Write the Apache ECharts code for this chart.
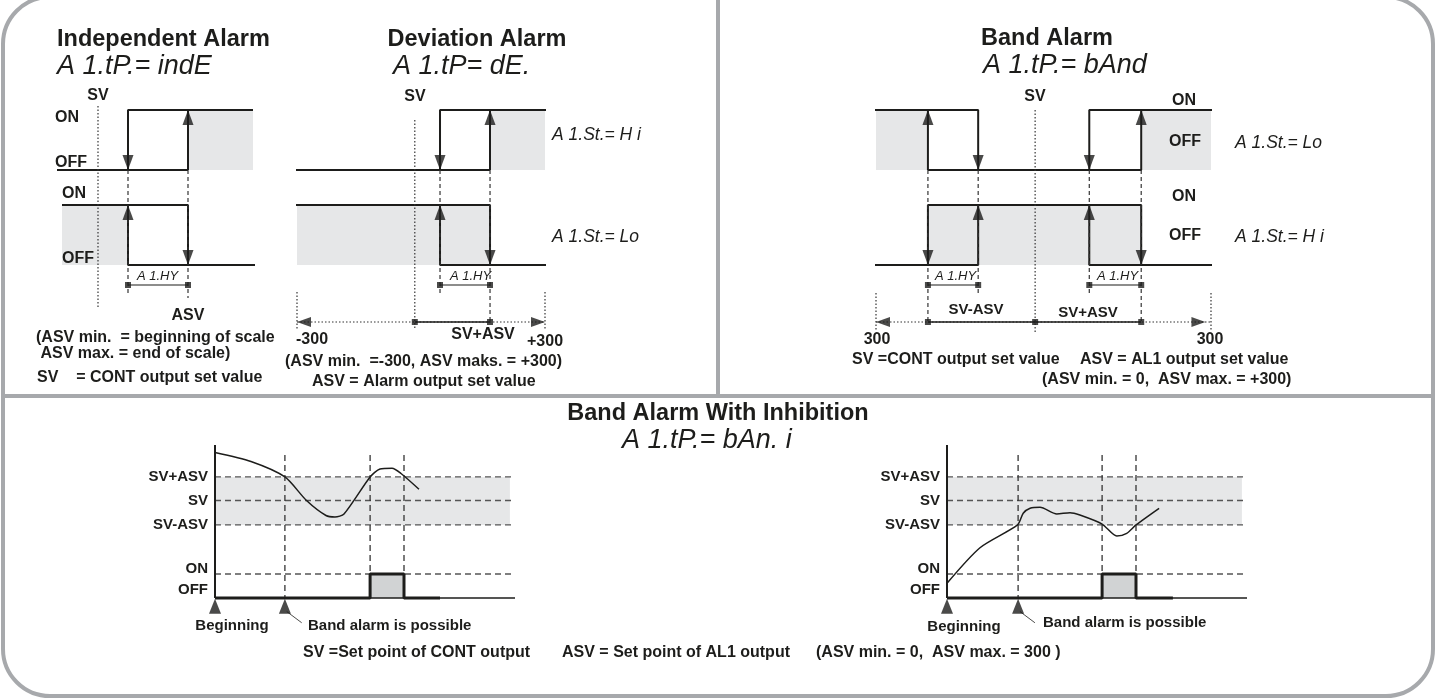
<!DOCTYPE html>
<html lang="en">
<head>
<meta charset="UTF-8">
<title>Alarm types</title>
<script src="https://cdn.jsdelivr.net/npm/echarts@6/dist/echarts.min.js"></script>
<style>
  body { margin: 0; background: #fff; }
  #chart { width: 1437px; height: 698px; }
</style>
</head>
<body>
<div id="chart"></div>
<script>
// ---- values ----
// switching-track levels of the top diagrams: ON1, OFF1, ON2, OFF2, hysteresis line, scale line
var trackLevels = [1, 7, 10.5, 16.5, 18.5, 22.2];

// independent alarm (scale units 0..200): SV, ASV-HY, ASV
var indeMarks = [41, 71, 131];
var indeEnds = [0, 5, 196, 198];          // row1 start, row2 start, row1 end, row2 end

// deviation alarm (-300..+300): SV, SV+ASV-HY, SV+ASV
var devMarks = [-15, 46, 167];
var devEnds = [-310, -319, 312, 324];
var devScale = [-300, 300];

// band alarm (-300..+300): SV-ASV, SV-ASV+HY, SV, SV+ASV-HY, SV+ASV
var bandMarks = [-207, -117, -15, 82, 175];
var bandEnds = [-332, -329, 330, 348, 323];
var bandScale = [-300, 300];

// band alarm with inhibition: process levels OFF, ON, SV-ASV, SV, SV+ASV
var inhibLevels = [0, 16, 48.7, 65, 80.7];
var inhibTickPos = [5.3, 19.3, 48.7, 65, 80.7];
var inhibTickLabels = ['OFF', 'ON', 'SV-ASV', 'SV', 'SV+ASV'];
var leftCurve = [[0, 97], [12, 91], [23.3, 80.7], [30.5, 65], [37, 55], [40, 54], [43, 56],
  [51.7, 80.7], [55, 86], [59, 86.5], [62, 83], [68, 72.5]];
var rightCurve = [[0, 9.8], [11, 33.5], [23.5, 48.7], [25.4, 56.5], [27.7, 59.8], [31, 60.5],
  [36.6, 56], [41, 56.9], [44.3, 55.3], [51.7, 49.3], [56.6, 41.3], [59.9, 43.1], [63, 48.7], [70.7, 59.8]];
var leftEvents = [23.3, 51.7, 63, 75];    // band alarm possible, alarm on, alarm off, end of output line
var rightEvents = [23.7, 51.7, 63, 75.3];

// ---- styling ----
var ink = '#1d1d1b';
var fillGrey = '#e6e7e8';
var pulseGrey = '#d1d3d4';
var frameGrey = '#a7a9ac';
var fam = '"Liberation Sans", Arial, sans-serif';
var labelFont = 'bold 16px ' + fam;
var smallFont = 'bold 15px ' + fam;
var titleFont = 'bold 23.5px ' + fam;
var segFont = 'italic 27px ' + fam;
var stFont = 'italic 17.5px ' + fam;
var hyFont = 'italic 13px ' + fam;

var series = [];

function path(g, pts, o) {
  o = o || {};
  series.push({
    type: 'line', xAxisIndex: g, yAxisIndex: g, data: pts, symbol: 'none',
    clip: false, silent: true, smooth: o.smooth || false, z: o.z || 3,
    lineStyle: { color: o.color || ink, width: o.w || 2, type: o.type || 'solid', cap: 'butt' }
  });
}
function dashed(g, pts) { path(g, pts, { w: 1.2, type: [4, 3], color: '#333' }); }
function dotted(g, pts) { path(g, pts, { w: 1.2, type: [1.5, 2], color: '#333' }); }

function heads(g, list, size) {
  size = size || [11, 15];
  var h = size[1] / 2;
  var rot = { up: 0, down: 180, left: 90, right: -90 };
  var off = { up: [0, h], down: [0, -h], left: [h, 0], right: [-h, 0] };
  series.push({
    type: 'scatter', xAxisIndex: g, yAxisIndex: g, clip: false, silent: true, z: 4,
    symbol: 'triangle', symbolSize: size, itemStyle: { color: ink },
    data: list.map(function (a) {
      return { value: [a[0], a[1]], symbolRotate: rot[a[2]], symbolOffset: off[a[2]] };
    })
  });
}
function markers(g, pts) {
  series.push({
    type: 'scatter', xAxisIndex: g, yAxisIndex: g, clip: false, silent: true, z: 4,
    symbol: 'rect', symbolSize: 6, itemStyle: { color: ink }, data: pts
  });
}
function areas(g, boxes, color) {
  series.push({
    type: 'line', xAxisIndex: g, yAxisIndex: g, data: [], symbol: 'none', silent: true, z: 1,
    markArea: {
      silent: true, itemStyle: { color: color || fillGrey },
      data: boxes.map(function (b) { return [{ coord: [b[0], b[1]] }, { coord: [b[2], b[3]] }]; })
    }
  });
}

var ON1 = trackLevels[0], OFF1 = trackLevels[1], ON2 = trackLevels[2], OFF2 = trackLevels[3];
var HY = trackLevels[4], SC = trackLevels[5];

// independent alarm
(function () {
  var sv = indeMarks[0], lo = indeMarks[1], hi = indeMarks[2];
  areas(0, [[hi, ON1, indeEnds[2], OFF1], [indeEnds[1], ON2, lo, OFF2]]);
  path(0, [[indeEnds[0], OFF1], [hi, OFF1]]);
  path(0, [[lo, OFF1], [lo, ON1], [indeEnds[2], ON1]]);
  path(0, [[hi, OFF1], [hi, ON1]]);
  path(0, [[indeEnds[1], ON2], [hi, ON2], [hi, OFF2]]);
  path(0, [[lo, ON2], [lo, OFF2], [indeEnds[3], OFF2]]);
  heads(0, [[lo, OFF1, 'down'], [hi, ON1, 'up'], [lo, ON2, 'up'], [hi, OFF2, 'down']]);
  dashed(0, [[lo, OFF1], [lo, 19.5]]);
  dashed(0, [[hi, OFF1], [hi, 19.8]]);
  dotted(0, [[sv, 0.6], [sv, 20.7]]);
  path(0, [[lo, HY], [hi, HY]], { w: 1.2 });
  markers(0, [[lo, HY], [hi, HY]]);
})();

// deviation alarm
(function () {
  var sv = devMarks[0], lo = devMarks[1], hi = devMarks[2];
  areas(1, [[hi, ON1, devEnds[2], OFF1], [devEnds[0], ON2, hi, OFF2]]);
  path(1, [[devEnds[0], OFF1], [hi, OFF1]]);
  path(1, [[lo, OFF1], [lo, ON1], [devEnds[2], ON1]]);
  path(1, [[hi, OFF1], [hi, ON1]]);
  path(1, [[devEnds[1], ON2], [hi, ON2], [hi, OFF2]]);
  path(1, [[lo, ON2], [lo, OFF2], [devEnds[3], OFF2]]);
  heads(1, [[lo, OFF1, 'down'], [hi, ON1, 'up'], [lo, ON2, 'up'], [hi, OFF2, 'down']]);
  dashed(1, [[lo, OFF1], [lo, 19.3]]);
  dashed(1, [[hi, OFF1], [hi, SC]]);
  dotted(1, [[sv, 2], [sv, 23]]);
  path(1, [[lo, HY], [hi, HY]], { w: 1.2 });
  dotted(1, [[devScale[0], SC], [devScale[1], SC]]);
  path(1, [[sv, SC], [hi, SC]], { w: 1.5 });
  markers(1, [[lo, HY], [hi, HY], [sv, SC], [hi, SC]]);
  heads(1, [[devScale[0], SC, 'left'], [devScale[1], SC, 'right']], [10, 14]);
  dotted(1, [[devScale[0], 19.2], [devScale[0], 23]]);
  dotted(1, [[devScale[1], 19.2], [devScale[1], 23]]);
})();

// band alarm
(function () {
  var s1 = bandMarks[0], s2 = bandMarks[1], sv = bandMarks[2], s3 = bandMarks[3], s4 = bandMarks[4];
  areas(2, [[bandEnds[0], ON1, s1, OFF1], [s4, ON1, bandEnds[4], OFF1], [s1, ON2, s4, OFF2]]);
  path(2, [[bandEnds[0], ON1], [s2, ON1], [s2, OFF1]]);
  path(2, [[s1, OFF1], [s1, ON1]]);
  path(2, [[s1, OFF1], [s4, OFF1], [s4, ON1]]);
  path(2, [[s3, OFF1], [s3, ON1], [bandEnds[2], ON1]]);
  path(2, [[bandEnds[1], OFF2], [s2, OFF2], [s2, ON2]]);
  path(2, [[s1, OFF2], [s1, ON2], [s4, ON2], [s4, OFF2]]);
  path(2, [[s3, ON2], [s3, OFF2], [bandEnds[3], OFF2]]);
  heads(2, [[s1, ON1, 'up'], [s2, OFF1, 'down'], [s3, OFF1, 'down'], [s4, ON1, 'up'],
    [s1, OFF2, 'down'], [s2, ON2, 'up'], [s3, ON2, 'up'], [s4, OFF2, 'down']]);
  dashed(2, [[s1, OFF1], [s1, SC]]);
  dashed(2, [[s2, OFF1], [s2, 19.5]]);
  dashed(2, [[s3, OFF1], [s3, 19.5]]);
  dashed(2, [[s4, OFF1], [s4, SC]]);
  dotted(2, [[sv, 1], [sv, 23.3]]);
  path(2, [[s1, HY], [s2, HY]], { w: 1.2 });
  path(2, [[s3, HY], [s4, HY]], { w: 1.2 });
  dotted(2, [[bandScale[0], SC], [bandScale[1], SC]]);
  path(2, [[s1, SC], [s4, SC]], { w: 1.5 });
  markers(2, [[s1, HY], [s2, HY], [s3, HY], [s4, HY], [s1, SC], [sv, SC], [s4, SC]]);
  heads(2, [[bandScale[0], SC, 'left'], [bandScale[1] - 10, SC, 'right']], [10, 14]);
  dotted(2, [[bandScale[0], 19.3], [bandScale[0], 23]]);
  dotted(2, [[bandScale[1], 19.3], [bandScale[1], 23]]);
})();

// band alarm with inhibition, two examples
function inhib(g, curve, ev) {
  var lv = inhibLevels;
  areas(g, [[0, lv[2], 98.3, lv[4]]]);
  areas(g, [[ev[1], lv[0], ev[2], lv[1]]], pulseGrey);
  [lv[1], lv[2], lv[3], lv[4]].forEach(function (v) {
    path(g, [[0, v], [100, v]], { w: 1.3, type: [6, 4], color: '#555' });
  });
  [ev[0], ev[1], ev[2]].forEach(function (t) {
    path(g, [[t, 95.3], [t, 0]], { w: 1.3, type: [6, 4], color: '#333' });
  });
  path(g, [[0, 0], [0, 102]], { w: 2 });
  path(g, [[0, 0], [100, 0]], { w: 1.5 });
  path(g, [[0, lv[0]], [ev[1], lv[0]], [ev[1], lv[1]], [ev[2], lv[1]], [ev[2], lv[0]], [ev[3], lv[0]]], { w: 3 });
  path(g, curve, { w: 1.5, smooth: 0.25 });
  heads(g, [[0, -0.5, 'up'], [ev[0], -0.5, 'up']], [12, 15]);
  path(g, [[ev[0] + 0.6, -9], [ev[0] + 5.6, -16.5]], { w: 0.8 });
}
inhib(3, leftCurve, leftEvents);
inhib(4, rightCurve, rightEvents);

// ---- grids and axes ----
var grids = [
  { left: 57, top: 100, width: 200, height: 240 },
  { left: 297, top: 100, width: 248, height: 240 },
  { left: 876, top: 100, width: 335, height: 240 },
  { left: 215, top: 445, width: 300, height: 153 },
  { left: 947, top: 445, width: 300, height: 153 }
];
var xRanges = [[0, 200], devScale, bandScale, [0, 100], [0, 100]];
var xAxes = xRanges.map(function (r, i) {
  return { type: 'value', gridIndex: i, min: r[0], max: r[1], show: false };
});
var yAxes = grids.map(function (g, i) {
  if (i < 3) return { type: 'value', gridIndex: i, min: 0, max: 24, inverse: true, show: false };
  return {
    type: 'value', gridIndex: i, min: 0, max: 102,
    axisLine: { show: false }, axisTick: { show: false }, splitLine: { show: false },
    axisLabel: {
      customValues: inhibTickPos, margin: 7, color: ink, fontWeight: 'bold', fontSize: 15,
      fontFamily: fam,
      formatter: function (v) { return inhibTickLabels[inhibTickPos.indexOf(v)] || ''; }
    }
  };
});

// ---- texts and frame ----
function txt(x, y, s, font, align) {
  return {
    type: 'text', x: x, y: y, silent: true, z: 10,
    style: { text: s, fill: ink, font: font || labelFont,
      textAlign: align || 'left', align: align || 'left',
      textVerticalAlign: 'middle', verticalAlign: 'middle' }
  };
}
var texts = [
  // independent
  txt(57, 40, 'Independent Alarm', titleFont),
  txt(57, 66, 'A 1.tP.= indE', segFont),
  txt(98, 96, 'SV', labelFont, 'center'),
  txt(55, 118, 'ON'), txt(55, 163, 'OFF'), txt(62, 194, 'ON'), txt(62, 259, 'OFF'),
  txt(137, 276, 'A 1.HY', hyFont),
  txt(188, 316, 'ASV', labelFont, 'center'),
  txt(36, 338, '(ASV min.  = beginning of scale'),
  txt(36, 354, ' ASV max. = end of scale)'),
  txt(37, 378, 'SV    = CONT output set value'),
  // deviation
  txt(477, 40, 'Deviation Alarm', titleFont, 'center'),
  txt(393, 66, 'A 1.tP= dE.', segFont),
  txt(415, 97, 'SV', labelFont, 'center'),
  txt(552, 135, 'A 1.St.= H i', stFont),
  txt(552, 237, 'A 1.St.= Lo', stFont),
  txt(450, 276, 'A 1.HY', hyFont),
  txt(296, 340, '-300'),
  txt(483, 335, 'SV+ASV', labelFont, 'center'),
  txt(527, 342, '+300'),
  txt(285, 362, '(ASV min.  =-300, ASV maks. = +300)'),
  txt(312, 382, 'ASV = Alarm output set value'),
  // band
  txt(1047, 39, 'Band Alarm', titleFont, 'center'),
  txt(983, 65, 'A 1.tP.= bAnd', segFont),
  txt(1035, 97, 'SV', labelFont, 'center'),
  txt(1184, 101, 'ON', labelFont, 'center'), txt(1185, 142, 'OFF', labelFont, 'center'),
  txt(1184, 197, 'ON', labelFont, 'center'), txt(1185, 236, 'OFF', labelFont, 'center'),
  txt(1235, 143, 'A 1.St.= Lo', stFont),
  txt(1235, 237, 'A 1.St.= H i', stFont),
  txt(935, 276, 'A 1.HY', hyFont), txt(1097, 276, 'A 1.HY', hyFont),
  txt(976, 310, 'SV-ASV', smallFont, 'center'),
  txt(1088, 313, 'SV+ASV', smallFont, 'center'),
  txt(877, 340, '300', labelFont, 'center'),
  txt(1210, 340, '300', labelFont, 'center'),
  txt(852, 360, 'SV =CONT output set value'),
  txt(1080, 360, 'ASV = AL1 output set value'),
  txt(1042, 380, '(ASV min. = 0,  ASV max. = +300)'),
  // inhibition
  txt(718, 414, 'Band Alarm With Inhibition', titleFont, 'center'),
  txt(622, 440, 'A 1.tP.= bAn. i', segFont),
  txt(232, 626, 'Beginning', smallFont, 'center'),
  txt(308, 626, 'Band alarm is possible', smallFont),
  txt(964, 627, 'Beginning', smallFont, 'center'),
  txt(1043, 623, 'Band alarm is possible', smallFont),
  txt(303, 653, 'SV =Set point of CONT output'),
  txt(562, 653, 'ASV = Set point of AL1 output'),
  txt(816, 653, '(ASV min. = 0,  ASV max. = 300 )')
];
var frame = [
  { type: 'rect', silent: true, z: 0, shape: { x: 3, y: -3, width: 1430, height: 699, r: 47 },
    style: { fill: 'none', stroke: frameGrey, lineWidth: 4 } },
  { type: 'line', silent: true, z: 0, shape: { x1: 3, y1: 396, x2: 1433, y2: 396 },
    style: { stroke: frameGrey, lineWidth: 4 } },
  { type: 'line', silent: true, z: 0, shape: { x1: 718, y1: 0, x2: 718, y2: 396 },
    style: { stroke: frameGrey, lineWidth: 4 } }
];

var myChart = echarts.init(document.getElementById('chart'));
myChart.setOption({
  animation: false,
  backgroundColor: '#fff',
  grid: grids,
  xAxis: xAxes,
  yAxis: yAxes,
  series: series,
  graphic: frame.concat(texts)
});
</script>
</body>
</html>
